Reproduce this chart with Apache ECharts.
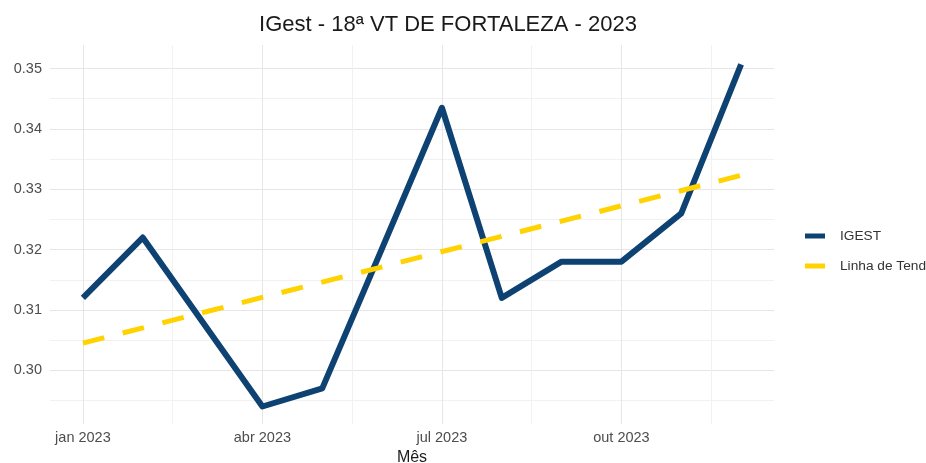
<!DOCTYPE html>
<html>
<head>
<meta charset="utf-8">
<script src="https://cdn.jsdelivr.net/npm/echarts@6/dist/echarts.min.js"></script>
<style>
  html, body { margin: 0; padding: 0; background: #fff; }
  #chart { width: 926px; height: 463px; }
</style>
</head>
<body>
<div id="chart"></div>
<script>
// meses (rótulos do eixo x)
const months = ['jan', 'fev', 'mar', 'abr', 'mai', 'jun', 'jul', 'ago', 'set', 'out', 'nov', 'dez'];
const year = 2023;
// IGest mensal
const igest = [0.312, 0.322, 0.308, 0.294, 0.297, 0.3202, 0.3435, 0.312, 0.318, 0.318, 0.326, 0.3507];
// linha de tendência (extremos jan / dez)
const trendMonths = [0, 11];
const trendValues = [0.3045, 0.3323];

const STEP = 1.5; // meses entre linhas de grade
const BLUE = '#0d4273';
const YELLOW = '#ffd200';
const MAJOR = '#e6e6e6';
const MINOR = '#f1f1f1';
const NONE = 'rgba(0,0,0,0)';

const igestData = igest.map((v, i) => [i / STEP, v]);
const trendData = trendMonths.map((m, i) => [m / STEP, trendValues[i]]);

const chart = echarts.init(document.getElementById('chart'));
chart.setOption({
  backgroundColor: '#fff',
  textStyle: { fontFamily: 'Liberation Sans' },
  animation: false,
  title: {
    text: 'IGest - 18ª VT DE FORTALEZA - 2023',
    left: 443, top: 9, textAlign: 'center',
    textStyle: { fontSize: 22, fontWeight: 'normal', color: '#1a1a1a' }
  },
  legend: {
    orient: 'vertical',
    left: 800, top: 224,
    itemWidth: 20, itemHeight: 5,
    itemGap: 16,
    icon: 'rect',
    textStyle: { fontSize: 13.7, color: '#333', padding: [0, 0, 0, 10] },
    data: ['IGEST', 'Linha de Tendência']
  },
  grid: { left: 50, right: 152, top: 45, bottom: 39, outerBoundsMode: 'none' },
  xAxis: {
    type: 'value',
    min: -0.55 / STEP,
    max: 11.55 / STEP,
    splitNumber: 8,
    name: 'Mês',
    nameLocation: 'middle',
    nameGap: 24,
    nameTextStyle: { fontSize: 16, color: '#1a1a1a' },
    axisLine: { show: false },
    axisTick: { show: false },
    axisLabel: {
      margin: 6, fontSize: 14.5, color: '#4d4d4d',
      showMinLabel: false, showMaxLabel: false,
      formatter: function (v) {
        const m = Math.round(v * STEP);
        if (Math.abs(v * STEP - m) > 1e-6 || m % 3 !== 0) return '';
        return months[m] + ' ' + year;
      }
    },
    splitLine: {
      show: true,
      lineStyle: { width: 1, color: [NONE, MAJOR, MINOR, MAJOR, MINOR, MAJOR, MINOR, MAJOR, MINOR, NONE] }
    }
  },
  yAxis: {
    type: 'value',
    min: 0.2911,
    max: 0.3539,
    splitNumber: 13,
    axisLine: { show: false },
    axisTick: { show: false },
    axisLabel: {
      margin: 8, fontSize: 14.5, color: '#4d4d4d',
      formatter: function (v) {
        const c = v * 100;
        return Math.abs(c - Math.round(c)) < 1e-6 ? v.toFixed(2) : '';
      }
    },
    splitLine: {
      show: true,
      lineStyle: {
        width: 1,
        color: [NONE, MINOR, MAJOR, MINOR, MAJOR, MINOR, MAJOR, MINOR, MAJOR, MINOR, MAJOR, MINOR, MAJOR, NONE]
      }
    }
  },
  series: [
    {
      name: 'IGEST',
      type: 'line',
      data: igestData,
      symbol: 'none',
      color: BLUE,
      lineStyle: { width: 6, color: BLUE, join: 'round', cap: 'butt' }
    },
    {
      name: 'Linha de Tendência',
      type: 'line',
      data: trendData,
      symbol: 'none',
      color: YELLOW,
      lineStyle: { width: 5, color: YELLOW, type: [22, 19], cap: 'butt' }
    }
  ]
});
</script>
</body>
</html>
